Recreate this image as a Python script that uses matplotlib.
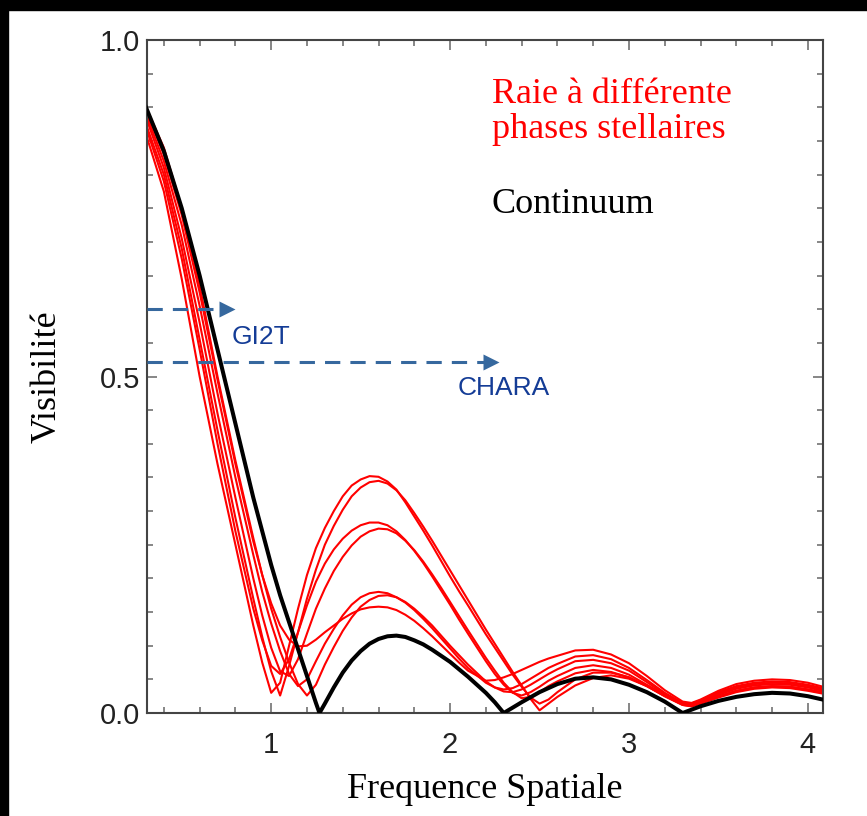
import matplotlib
matplotlib.use("Agg")
import matplotlib.pyplot as plt
from matplotlib.patches import Rectangle
from matplotlib.ticker import MultipleLocator

# continuum visibility (black)
freq_cont = [0.3, 0.4, 0.5, 0.6, 0.7, 0.8, 0.85, 0.9, 0.95, 1.0, 1.05, 1.1, 1.15, 1.2, 1.25,
             1.27, 1.3, 1.35, 1.4, 1.45, 1.5, 1.55, 1.6, 1.65, 1.7, 1.75, 1.8, 1.85, 1.9, 1.95,
             2.0, 2.05, 2.1, 2.15, 2.2, 2.25, 2.3, 2.4, 2.5, 2.6,
             2.7, 2.8, 2.9, 3.0, 3.1, 3.2, 3.3, 3.4, 3.5, 3.6, 3.7, 3.8, 3.9, 4.0, 4.1]
vis_cont = [0.90, 0.835, 0.75, 0.65, 0.54, 0.43, 0.375, 0.32, 0.27, 0.22, 0.175, 0.135, 0.095, 0.055, 0.015,
            0.0, 0.014, 0.038, 0.06, 0.078, 0.092, 0.103, 0.11, 0.114, 0.115, 0.113, 0.108, 0.102, 0.094, 0.085,
            0.076, 0.065, 0.054, 0.042, 0.03, 0.016, 0.0, 0.016, 0.031, 0.043,
            0.051, 0.053, 0.05, 0.042, 0.031, 0.017, 0.0, 0.01, 0.018, 0.024, 0.028, 0.03, 0.029, 0.025, 0.019]

# line visibilities at different stellar phases (red)
freq_line = [0.3, 0.4, 0.5, 0.6, 0.7, 0.8, 0.9,
             0.95, 1.0, 1.05, 1.1, 1.15, 1.2, 1.25, 1.3, 1.35, 1.4, 1.45, 1.5, 1.55, 1.6, 1.65,
             1.7, 1.75, 1.8, 1.85, 1.9, 1.95, 2.0, 2.05, 2.1,
             2.2, 2.25, 2.3, 2.35, 2.4, 2.45, 2.5, 2.55, 2.6,
             2.7, 2.8, 2.9, 3.0, 3.1, 3.2, 3.3, 3.35, 3.4,
             3.5, 3.6, 3.7, 3.8, 3.9, 4.0, 4.1]
vis_phase_a = [0.86, 0.775, 0.645, 0.50, 0.37, 0.25, 0.13,
               0.075, 0.03, 0.045, 0.10, 0.155, 0.205, 0.245, 0.275, 0.30, 0.322, 0.338, 0.347, 0.352, 0.351, 0.344,
               0.332, 0.313, 0.292, 0.271, 0.249, 0.226, 0.203, 0.181, 0.16,
               0.117, 0.097, 0.077, 0.057, 0.039, 0.023, 0.014, 0.02, 0.031,
               0.05, 0.06, 0.06, 0.053, 0.04, 0.025, 0.012, 0.01, 0.014,
               0.024, 0.033, 0.038, 0.04, 0.039, 0.035, 0.03]
vis_phase_b = [0.875, 0.80, 0.69, 0.555, 0.42, 0.29, 0.17,
               0.113, 0.062, 0.026, 0.07, 0.12, 0.17, 0.213, 0.25, 0.278, 0.302, 0.322, 0.335, 0.343, 0.345, 0.341,
               0.331, 0.316, 0.297, 0.277, 0.256, 0.234, 0.212, 0.19, 0.168,
               0.124, 0.103, 0.082, 0.061, 0.041, 0.021, 0.004, 0.014, 0.024,
               0.041, 0.052, 0.056, 0.051, 0.04, 0.025, 0.012, 0.01, 0.014,
               0.023, 0.031, 0.036, 0.038, 0.037, 0.033, 0.028]
vis_phase_c = [0.87, 0.79, 0.675, 0.54, 0.40, 0.27, 0.155,
               0.108, 0.07, 0.058, 0.08, 0.12, 0.16, 0.195, 0.222, 0.243, 0.259, 0.271, 0.279, 0.283, 0.283, 0.279,
               0.27, 0.257, 0.241, 0.223, 0.203, 0.182, 0.161, 0.139, 0.118,
               0.077, 0.058, 0.042, 0.03, 0.026, 0.031, 0.039, 0.048, 0.055,
               0.067, 0.071, 0.067, 0.057, 0.042, 0.027, 0.013, 0.012, 0.016,
               0.027, 0.036, 0.041, 0.043, 0.042, 0.038, 0.032]
vis_phase_d = [0.885, 0.81, 0.705, 0.58, 0.445, 0.32, 0.20,
               0.145, 0.097, 0.062, 0.055, 0.08, 0.118, 0.155, 0.185, 0.211, 0.232, 0.249, 0.262, 0.27, 0.274, 0.273,
               0.267, 0.256, 0.242, 0.225, 0.206, 0.186, 0.165, 0.144, 0.123,
               0.082, 0.063, 0.045, 0.031, 0.022, 0.024, 0.031, 0.04, 0.047,
               0.059, 0.064, 0.061, 0.053, 0.04, 0.026, 0.013, 0.011, 0.015,
               0.025, 0.033, 0.038, 0.04, 0.039, 0.035, 0.03]
vis_phase_e = [0.89, 0.82, 0.725, 0.605, 0.475, 0.35, 0.235,
               0.18, 0.133, 0.092, 0.058, 0.04, 0.05, 0.077, 0.103, 0.125, 0.145, 0.161, 0.172, 0.178, 0.18, 0.178,
               0.172, 0.164, 0.153, 0.14, 0.126, 0.111, 0.096, 0.081, 0.067,
               0.045, 0.038, 0.035, 0.037, 0.043, 0.051, 0.059, 0.067, 0.073,
               0.084, 0.086, 0.08, 0.067, 0.049, 0.03, 0.015, 0.014, 0.019,
               0.031, 0.04, 0.045, 0.047, 0.046, 0.042, 0.036]
vis_phase_f = [0.90, 0.84, 0.75, 0.635, 0.50, 0.375, 0.26,
               0.205, 0.155, 0.113, 0.075, 0.043, 0.026, 0.042, 0.072, 0.098, 0.122, 0.142, 0.158, 0.168, 0.174, 0.175,
               0.172, 0.165, 0.155, 0.143, 0.13, 0.115, 0.10, 0.086, 0.072,
               0.047, 0.038, 0.032, 0.031, 0.035, 0.042, 0.05, 0.058, 0.065,
               0.077, 0.079, 0.074, 0.063, 0.046, 0.028, 0.014, 0.013, 0.018,
               0.029, 0.038, 0.043, 0.045, 0.044, 0.04, 0.034]
vis_phase_g = [0.895, 0.83, 0.74, 0.625, 0.495, 0.37, 0.255,
               0.205, 0.163, 0.13, 0.109, 0.099, 0.10, 0.109, 0.12, 0.13, 0.14, 0.148, 0.154, 0.157, 0.158, 0.157,
               0.153, 0.146, 0.137, 0.126, 0.114, 0.101, 0.088, 0.075, 0.063,
               0.048, 0.049, 0.053, 0.058, 0.064, 0.07, 0.076, 0.081, 0.085,
               0.093, 0.094, 0.087, 0.074, 0.055, 0.034, 0.017, 0.015, 0.02,
               0.033, 0.043, 0.048, 0.05, 0.049, 0.045, 0.038]
phases = [vis_phase_a, vis_phase_b, vis_phase_c, vis_phase_d, vis_phase_e, vis_phase_f, vis_phase_g]

# interferometer baselines (arrows)
baseline_names = ["GI2T", "CHARA"]
baseline_vis = [0.60, 0.522]
baseline_reach = [0.795, 2.27]

serif = ["Liberation Serif", "DejaVu Serif"]
sans = ["Liberation Sans", "DejaVu Sans"]
arrow_col = "#36689e"
text_blue = "#143c96"

fig = plt.figure(figsize=(8.67, 8.16), dpi=100)
ax = fig.add_axes([0.1696, 0.1262, 0.7797, 0.8248])

for v in phases:
    ax.plot(freq_line, v, color="#ff0000", lw=1.5, solid_joinstyle="round")
ax.plot(freq_cont, vis_cont, color="black", lw=2.9, solid_joinstyle="round", zorder=3)

# dashed arrows
for name, v, reach in zip(baseline_names, baseline_vis, baseline_reach):
    ax.plot([0.306, reach - 0.07], [v, v], color=arrow_col, lw=2.2,
            dashes=(5, 3.3), solid_capstyle="butt", zorder=4)
    ax.plot(reach - 0.04, v, marker=">", ms=12, color=arrow_col, mec="none", zorder=4)

ax.text(0.778, 0.559, "GI2T", color=text_blue, fontsize=19, family=sans, va="center")
ax.text(2.045, 0.483, "CHARA", color=text_blue, fontsize=19, family=sans, va="center")

ax.text(0.51, 0.893, "Raie à différente\nphases stellaires", transform=ax.transAxes,
        color="#ff0000", fontsize=26, family=serif, va="center", ha="left", linespacing=1.05)
ax.text(0.51, 0.756, "Continuum", transform=ax.transAxes,
        color="black", fontsize=26, family=serif, va="center", ha="left")

ax.set_xlim(0.306, 4.085)
ax.set_ylim(0, 1.0)
ax.xaxis.set_major_locator(MultipleLocator(1))
ax.xaxis.set_minor_locator(MultipleLocator(0.2))
ax.yaxis.set_major_locator(MultipleLocator(0.5))
ax.yaxis.set_minor_locator(MultipleLocator(0.05))
ax.set_xticks([1, 2, 3, 4])
ax.set_xticklabels(["1", "2", "3", "4"])
ax.set_yticks([0, 0.5, 1.0])
ax.set_yticklabels(["0.0", "0.5", "1.0"])

ax.tick_params(which="both", direction="in", top=True, right=True, color="#666666", width=1.1)
ax.tick_params(which="major", length=7)
ax.tick_params(which="minor", length=4.5)
ax.tick_params(axis="x", which="major", pad=13)
ax.tick_params(axis="y", which="major", pad=5)
for lab in ax.get_xticklabels() + ax.get_yticklabels():
    lab.set_family(sans)
    lab.set_fontsize(21)
    lab.set_color("#222222")
for sp in ax.spines.values():
    sp.set_color("#444444")
    sp.set_linewidth(1.5)

ax.set_xlabel("Frequence Spatiale", family=serif, fontsize=26, va="center")
ax.set_ylabel("Visibilité", family=serif, fontsize=26, va="center")
ax.xaxis.set_label_coords(0.5, -0.114)
ax.yaxis.set_label_coords(-0.148, 0.5)

# black frame of the scanned picture
fig.patches.append(Rectangle((0, 1 - 10 / 816), 1, 10 / 816, transform=fig.transFigure,
                             color="black", zorder=10))
fig.patches.append(Rectangle((0, 0), 8 / 867, 1, transform=fig.transFigure,
                             color="black", zorder=10))

fig.savefig("out.png", dpi=100)
